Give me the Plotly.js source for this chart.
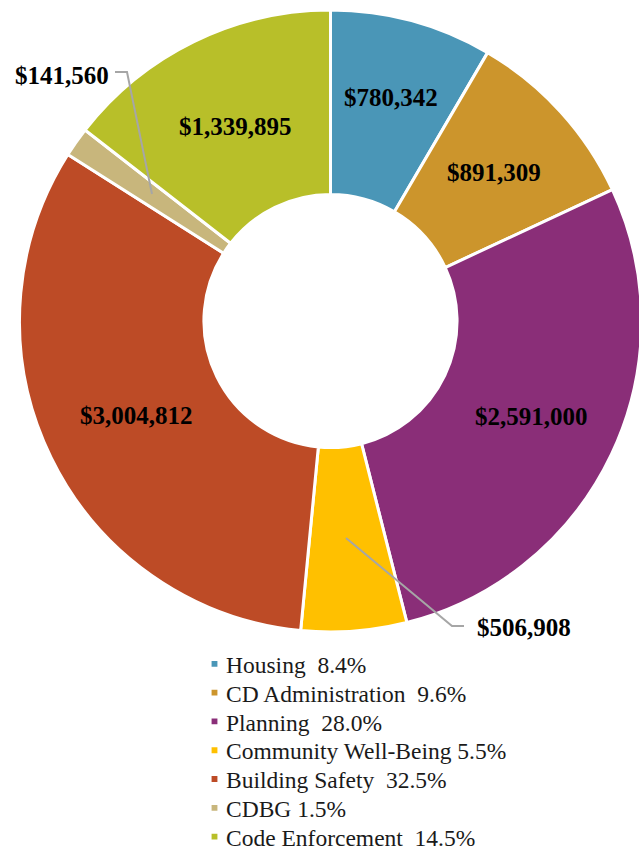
<!DOCTYPE html>
<html>
<head>
<meta charset="utf-8">
<script src="https://cdn.plot.ly/plotly-3.0.1.min.js"></script>
<style>
html,body{margin:0;padding:0;overflow:hidden;background:#fff;width:639px;height:853px;}
#chart{width:645px;height:853px;}
</style>
</head>
<body>
<div id="chart"></div>
<script>
// Data
var categories = ["Housing", "CD Administration", "Planning", "Community Well-Being", "Building Safety", "CDBG", "Code Enforcement"];
var budgets = [780342, 891309, 2591000, 506908, 3004812, 141560, 1339895];
var colors = ["#4A96B7", "#CC952C", "#8A2E78", "#FFC000", "#BD4B26", "#C8B67C", "#B8BF29"];
var legendGaps = ["\u00a0\u00a0", "\u00a0\u00a0", "\u00a0\u00a0", " ", "\u00a0\u00a0", " ", "\u00a0\u00a0"];

// Layout constants (pixels)
var W = 645, H = 853;
var cx = 330.5, cy = 321, R = 311;
var labelRadius = [232, 221, 222, 0, 216, 0, 216];   // 0 = label placed outside with a leader line
var outsideLabels = {5: [61.5, 75], 3: [523.5, 627]};
var leaderPaths = {5: [[115, 72], [127, 72], [152, 194]], 3: [[346, 538], [452, 626], [464, 626]]};

var total = budgets.reduce(function(a, b){ return a + b; }, 0);
function money(v){ return "$" + v.toLocaleString("en-US"); }
function px(x){ return x / W; }
function py(y){ return 1 - y / H; }

var legendLabels = categories.map(function(c, i){
  return c + legendGaps[i] + (budgets[i] / total * 100).toFixed(1) + "%";
});

var labelFont = {family: "Liberation Serif, Times New Roman, serif", size: 25, color: "#000000", weight: 700};

// value labels, placed at each slice's mid-angle (clockwise from 12 o'clock)
var annotations = [];
var cum = 0;
budgets.forEach(function(v, i){
  var mid = (cum + v / 2) / total * 2 * Math.PI;
  cum += v;
  var x, y;
  if (labelRadius[i] > 0) {
    x = cx + labelRadius[i] * Math.sin(mid);
    y = cy - labelRadius[i] * Math.cos(mid);
  } else {
    x = outsideLabels[i][0]; y = outsideLabels[i][1];
  }
  annotations.push({text: money(v), x: px(x), y: py(y), xref: "paper", yref: "paper",
    showarrow: false, xanchor: "center", yanchor: "middle", font: labelFont});
});

var shapes = Object.keys(leaderPaths).map(function(k){
  var p = leaderPaths[k].map(function(pt, j){ return (j ? "L" : "M") + px(pt[0]) + "," + py(pt[1]); }).join(" ");
  return {type: "path", xref: "paper", yref: "paper", path: p, line: {color: "#A6A6A6", width: 2}};
});

var trace = {
  type: "pie",
  labels: legendLabels,
  values: budgets,
  textinfo: "none",
  sort: false,
  direction: "clockwise",
  rotation: 0,
  hole: 0.407,
  marker: {colors: colors, line: {color: "#ffffff", width: 3}},
  domain: {x: [px(cx - R), px(cx + R)], y: [py(cy + R), py(cy - R)]},
  hoverinfo: "none"
};

var layout = {
  width: W, height: H,
  margin: {l: 0, r: 0, t: 0, b: 0, autoexpand: false},
  paper_bgcolor: "#ffffff",
  showlegend: true,
  legend: {
    x: px(186), y: py(647), xanchor: "left", yanchor: "top",
    font: {family: "Liberation Serif, Times New Roman, serif", size: 23.5, color: "#1a1a1a"},
    bgcolor: "rgba(0,0,0,0)", borderwidth: 0, traceorder: "normal"
  },
  annotations: annotations,
  shapes: shapes
};

var legendFirstRowY = 665, legendRowStep = 28.8, legendMarkerX = 28.5;

Plotly.newPlot("chart", [trace], layout, {displayModeBar: false, staticPlot: true}).then(function(gd){
  var items = gd.querySelectorAll(".legend .traces");
  if (!items.length) return;
  var parse = function(g){
    var m = /translate\(\s*([-\d.e]+)[ ,]+([-\d.e]+)\s*\)/.exec(g.getAttribute("transform") || "");
    return m ? [parseFloat(m[1]), parseFloat(m[2])] : [0, 0];
  };
  var t0 = parse(items[0]);
  var txt = items[0].querySelector("text.legendtext");
  var box = txt.getBoundingClientRect();
  var delta = legendFirstRowY - (box.top + box.height / 2);
  items.forEach(function(g, i){
    var t = parse(g);
    g.setAttribute("transform", "translate(" + t[0] + "," + (t0[1] + delta + i * legendRowStep) + ")");
    var mk = g.querySelector(".legendpoints path");
    if (mk) mk.setAttribute("transform", "translate(" + legendMarkerX + ",0) scale(0.65)");
  });
});
</script>
</body>
</html>
